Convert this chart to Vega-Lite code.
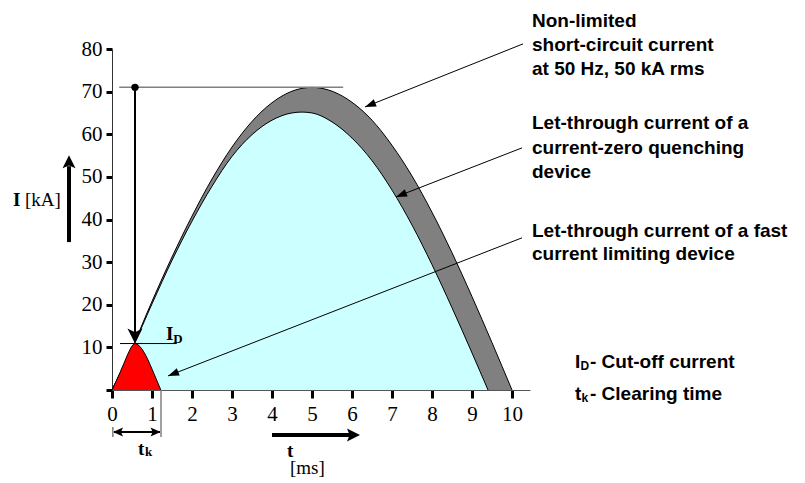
{
  "$schema": "https://vega.github.io/schema/vega-lite/v6.json",
  "width": 418,
  "height": 341,
  "autosize": "none",
  "padding": {"left": 112, "top": 49, "right": 275, "bottom": 93},
  "background": "white",
  "config": {"view": {"stroke": null}, "axis": {"grid": false}},
  "encoding": {
    "x": {
      "field": "t", "type": "quantitative",
      "scale": {"domain": [0, 10.45], "nice": false, "zero": false},
      "axis": {"values": [0,1,2,3,4,5,6,7,8,9,10], "title": null, "labelFont": "Liberation Serif", "labelFontSize": 21, "labelColor": "black", "tickColor": "black", "tickWidth": 3, "tickSize": 8, "domainColor": "#555", "domainWidth": 1, "labelPadding": 5, "labelFlush": false, "labelOverlap": false}
    },
    "y": {
      "field": "I", "type": "quantitative", "stack": null,
      "scale": {"domain": [0, 80], "nice": false},
      "axis": {"values": [0,10,20,30,40,50,60,70,80], "labelExpr": "datum.value == 0 ? '' : datum.label", "title": null, "labelFont": "Liberation Serif", "labelFontSize": 21, "labelColor": "black", "tickColor": "black", "tickWidth": 3, "tickSize": 6, "domainColor": "#333", "domainWidth": 1, "labelPadding": 4, "labelFlush": false}
    }
  },
  "datasets": {
    "outer": [{"t":0,"I":0},{"t":0.5,"I":9.8},{"t":1,"I":20.8},{"t":1.5,"I":31.2},{"t":2,"I":40.8},{"t":2.5,"I":49.5},{"t":3,"I":57},{"t":3.5,"I":63},{"t":4,"I":67.4},{"t":4.5,"I":70.1},{"t":5,"I":71},{"t":5.5,"I":70.1},{"t":6,"I":67.5},{"t":6.5,"I":63.3},{"t":7,"I":57.4},{"t":7.5,"I":50.2},{"t":8,"I":41.7},{"t":8.5,"I":32.2},{"t":9,"I":21.9},{"t":9.5,"I":11.1},{"t":10,"I":0}],
    "inner": [{"t":0,"I":0},{"t":0.5,"I":9.6},{"t":1,"I":20.2},{"t":1.5,"I":30.4},{"t":2,"I":39.6},{"t":2.5,"I":47.8},{"t":3,"I":54.8},{"t":3.5,"I":59.9},{"t":4,"I":63.3},{"t":4.5,"I":65},{"t":4.75,"I":65.2},{"t":5,"I":65},{"t":5.5,"I":62.9},{"t":6,"I":59.1},{"t":6.5,"I":53.8},{"t":7,"I":46.9},{"t":7.5,"I":38.7},{"t":8,"I":29.4},{"t":8.5,"I":19.3},{"t":9,"I":8.7},{"t":9.4,"I":0}],
    "fast": [{"t":0,"I":0},{"t":0.1,"I":2.0},{"t":0.2,"I":4.1},{"t":0.3,"I":6.3},{"t":0.4,"I":8.5},{"t":0.5,"I":10.3},{"t":0.575,"I":10.9},{"t":0.65,"I":10.6},{"t":0.75,"I":9.6},{"t":0.85,"I":8.0},{"t":0.95,"I":6.0},{"t":1.05,"I":3.8},{"t":1.15,"I":1.6},{"t":1.22,"I":0}]
  },
  "layer": [
    {"data": {"name": "outer"}, "mark": {"type": "area", "color": "#808080", "interpolate": "monotone", "opacity": 1}},
    {"data": {"name": "outer"}, "mark": {"type": "line", "color": "black", "strokeWidth": 1, "interpolate": "monotone"}},
    {"data": {"name": "inner"}, "mark": {"type": "area", "color": "#CCFFFF", "interpolate": "monotone", "opacity": 1}},
    {"data": {"name": "inner"}, "mark": {"type": "line", "color": "black", "strokeWidth": 1, "interpolate": "monotone"}},
    {"data": {"name": "fast"}, "mark": {"type": "area", "color": "#FF0000", "interpolate": "monotone", "opacity": 1}},
    {"data": {"name": "fast"}, "mark": {"type": "line", "color": "black", "strokeWidth": 1, "interpolate": "monotone"}},
    {"data": {"values": [{"t": 0.18, "t2": 5.78, "I": 71}]}, "mark": {"type": "rule", "color": "#808080", "strokeWidth": 1.5}, "encoding": {"x2": {"field": "t2"}}},
    {"data": {"values": [{"t": 0.2, "t2": 1.62, "I": 10.9}]}, "mark": {"type": "rule", "color": "black", "strokeWidth": 1}, "encoding": {"x2": {"field": "t2"}}},
    {"data": {"values": [{"t": 0.575, "I": 71, "I2": 13}]}, "mark": {"type": "rule", "color": "black", "strokeWidth": 2}, "encoding": {"y2": {"field": "I2"}}},
    {"data": {"values": [{"t": 0.575, "I": 71}]}, "mark": {"type": "point", "shape": "circle", "filled": true, "color": "black", "size": 55, "opacity": 1}},
    {"data": {"values": [{"t": 0.575, "I": 10.9}]}, "mark": {"type": "point", "shape": "M0,0L-0.5,1L0,0.75L0.5,1Z", "filled": true, "color": "black", "size": 900, "angle": 180, "opacity": 1, "strokeWidth": 0}},
    {"data": {"values": [{"t": 10.275, "I": 81.2, "t2": 6.325, "I2": 66.4}, {"t": 10.25, "I": 56.8, "t2": 7.1, "I2": 45.3}, {"t": 10.25, "I": 35.7, "t2": 1.4, "I2": 3.3}]}, "mark": {"type": "rule", "color": "black", "strokeWidth": 1}, "encoding": {"x2": {"field": "t2"}, "y2": {"field": "I2"}}},
    {"data": {"values": [{"t": 6.325, "I": 66.4}, {"t": 7.1, "I": 45.3}, {"t": 1.4, "I": 3.3}]}, "mark": {"type": "point", "shape": "M0,0L-0.36,1L0.36,1Z", "filled": true, "color": "black", "size": 484, "angle": 248.5, "opacity": 1, "strokeWidth": 0}},
    {"data": {"values": [{"t": -1.075, "I": 34.7, "I2": 52.5}]}, "mark": {"type": "rule", "color": "black", "strokeWidth": 4}, "encoding": {"y2": {"field": "I2"}}},
    {"data": {"values": [{"t": -1.075, "I": 55.1}]}, "mark": {"type": "point", "shape": "M0,0L-0.5,1L0,0.8L0.5,1Z", "filled": true, "color": "black", "size": 676, "angle": 0, "opacity": 1, "strokeWidth": 0}},
    {"data": {"values": [{"t": 4.0, "t2": 5.95, "I": -10.56}]}, "mark": {"type": "rule", "color": "black", "strokeWidth": 4}, "encoding": {"x2": {"field": "t2"}}},
    {"data": {"values": [{"t": 6.2, "I": -10.56}]}, "mark": {"type": "point", "shape": "M0,0L-0.5,1L0,0.8L0.5,1Z", "filled": true, "color": "black", "size": 676, "angle": 90, "opacity": 1, "strokeWidth": 0}},
    {"data": {"values": [{"t": 0.05, "t2": 1.2, "I": -9.85}]}, "mark": {"type": "rule", "color": "black", "strokeWidth": 2}, "encoding": {"x2": {"field": "t2"}}},
    {"data": {"values": [{"t": 0.025, "I": -9.85}]}, "mark": {"type": "point", "shape": "M0,0L-0.45,1L0,0.8L0.45,1Z", "filled": true, "color": "black", "size": 400, "angle": 270, "opacity": 1, "strokeWidth": 0}},
    {"data": {"values": [{"t": 1.215, "I": -9.85}]}, "mark": {"type": "point", "shape": "M0,0L-0.45,1L0,0.8L0.45,1Z", "filled": true, "color": "black", "size": 400, "angle": 90, "opacity": 1, "strokeWidth": 0}},
    {"data": {"values": [{"t": 1.225, "I": 0, "I2": -11}, {"t": 0.02, "I": -8.7, "I2": -11}]}, "mark": {"type": "rule", "color": "#808080", "strokeWidth": 1.5}, "encoding": {"y2": {"field": "I2"}}},
    {"data": {"values": [
      {"t": 10.5, "I": 85.16, "label": "Non-limited"},
      {"t": 10.5, "I": 79.53, "label": "short-circuit current"},
      {"t": 10.5, "I": 73.9, "label": "at 50 Hz, 50 kA rms"},
      {"t": 10.5, "I": 61.23, "label": "Let-through current of a"},
      {"t": 10.5, "I": 55.37, "label": "current-zero quenching"},
      {"t": 10.5, "I": 49.74, "label": "device"},
      {"t": 10.5, "I": 35.89, "label": "Let-through current of a fast"},
      {"t": 10.5, "I": 30.5, "label": "current limiting device"},
      {"t": 11.575, "I": 5.16, "label": "I"},
      {"t": 11.95, "I": 5.16, "label": "- Cut-off current"},
      {"t": 11.575, "I": -2.35, "label": "t"},
      {"t": 11.95, "I": -2.35, "label": "- Clearing time"}
    ]}, "mark": {"type": "text", "align": "left", "baseline": "alphabetic", "font": "Liberation Sans", "fontWeight": "bold", "fontSize": 19, "color": "black"}, "encoding": {"text": {"field": "label"}}},
    {"data": {"values": [
      {"t": 11.71, "I": 4.69, "label": "D"},
      {"t": 11.74, "I": -2.82, "label": "k"}
    ]}, "mark": {"type": "text", "align": "left", "baseline": "alphabetic", "font": "Liberation Sans", "fontWeight": "bold", "fontSize": 12, "color": "black"}, "encoding": {"text": {"field": "label"}}},
    {"data": {"values": [
      {"t": 1.35, "I": 11.73, "label": "I"},
      {"t": 0.65, "I": -15.25, "label": "t"},
      {"t": 4.375, "I": -15.7, "label": "t"},
      {"t": -2.475, "I": 43.2, "label": "I"}
    ]}, "mark": {"type": "text", "align": "left", "baseline": "alphabetic", "font": "Liberation Serif", "fontWeight": "bold", "fontSize": 19, "color": "black"}, "encoding": {"text": {"field": "label"}}},
    {"data": {"values": [
      {"t": 1.53, "I": 11.0, "label": "D"},
      {"t": 0.825, "I": -15.5, "label": "k"}
    ]}, "mark": {"type": "text", "align": "left", "baseline": "alphabetic", "font": "Liberation Serif", "fontWeight": "bold", "fontSize": 13, "color": "black"}, "encoding": {"text": {"field": "label"}}},
    {"data": {"values": [
      {"t": -2.175, "I": 43.2, "label": "[kA]"}
    ]}, "mark": {"type": "text", "align": "left", "baseline": "alphabetic", "font": "Liberation Serif", "fontSize": 19, "color": "black"}, "encoding": {"text": {"field": "label"}}},
    {"data": {"values": [
      {"t": 4.45, "I": -19.7, "label": "[ms]"}
    ]}, "mark": {"type": "text", "align": "left", "baseline": "alphabetic", "font": "Liberation Serif", "fontSize": 19, "color": "black"}, "encoding": {"text": {"field": "label"}}}
  ]
}
